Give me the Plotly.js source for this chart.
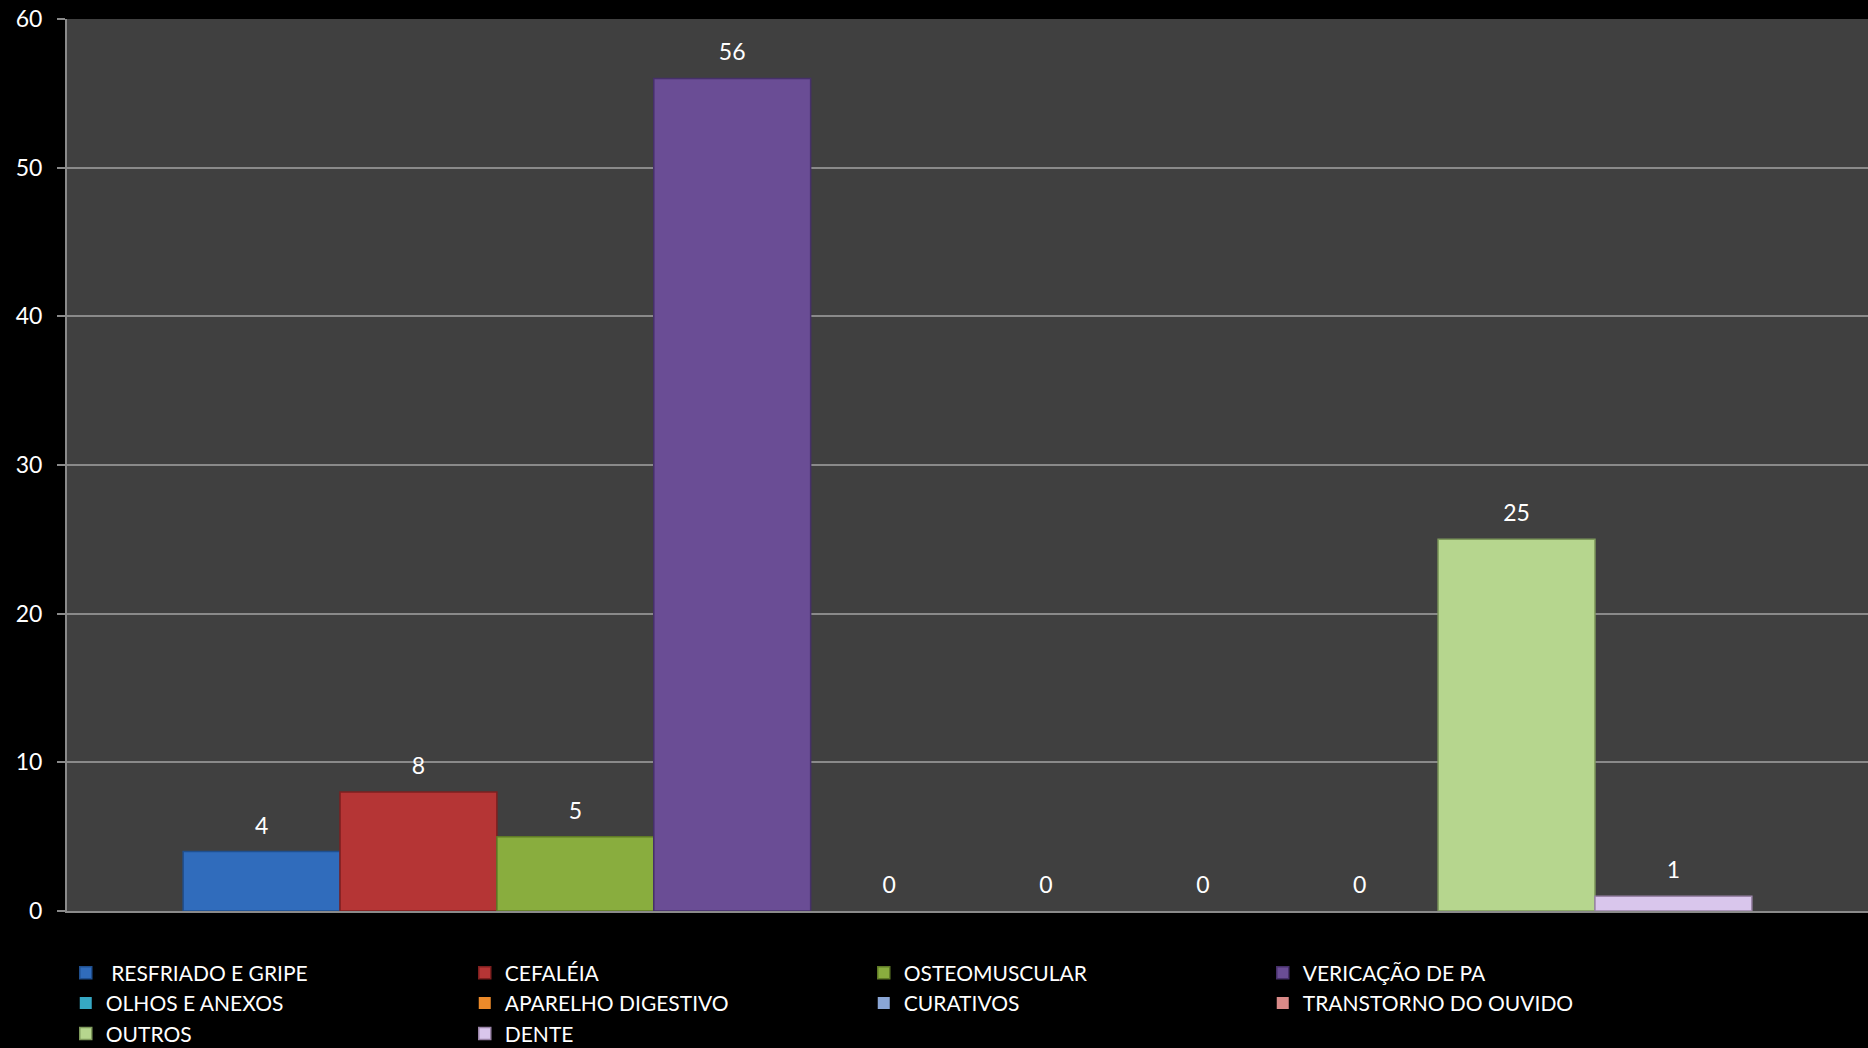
<!DOCTYPE html>
<html>
<head>
<meta charset="utf-8">
<script src="https://cdn.plot.ly/plotly-3.0.1.min.js"></script>
<style>
html,body{margin:0;padding:0;background:#000;}
#chart{width:1868px;height:1048px;}
</style>
</head>
<body>
<div id="chart"></div>
<script>
const categoria = ['Atendimentos'];
const series = [' RESFRIADO E GRIPE', 'CEFALÉIA', 'OSTEOMUSCULAR', 'VERICAÇÃO DE PA',
  'OLHOS E ANEXOS', 'APARELHO DIGESTIVO', 'CURATIVOS', 'TRANSTORNO DO OUVIDO',
  'OUTROS', 'DENTE'];
const valores = [4, 8, 5, 56, 0, 0, 0, 0, 25, 1];
const cores = ['#306cbc', '#b53535', '#89ad3e', '#6a4d95', '#36a8c4', '#ec8a2a',
  '#8aa6d6', '#d98a88', '#b6d68e', '#d9c6ec'];
const bordas = ['#1f4f8f', '#7e1f1f', '#5f7a26', '#46306a', '#1f7088', '#a85d14',
  '#5f77a3', '#9c5654', '#7f9a5c', '#9a84a8'];
const yTicks = [0, 10, 20, 30, 40, 50, 60];

const FONT = 'Lato, "Open Sans", sans-serif';

const traces = series.map((nome, i) => ({
  type: 'bar',
  name: nome,
  x: categoria,
  y: [valores[i]],
  marker: {color: cores[i], line: {color: bordas[i], width: valores[i] > 0 ? 1.5 : 0}},
  texttemplate: '<span style="font-size:23px">%{y}</span><br>&nbsp;',
  textposition: 'outside',
  cliponaxis: false,
  textfont: {color: '#ffffff', size: 10, family: FONT},
  hoverinfo: 'name+y'
}));

const layout = {
  width: 1868,
  height: 1048,
  paper_bgcolor: '#000000',
  plot_bgcolor: '#404040',
  margin: {l: 67, r: 0, t: 19, b: 137, pad: 0},
  barmode: 'group',
  bargap: 0.129,
  bargroupgap: 0,
  font: {family: FONT, color: '#ffffff', size: 21},
  showlegend: true,
  xaxis: {
    type: 'category',
    showticklabels: false,
    ticks: '',
    showgrid: false,
    showline: true,
    linecolor: '#8a8a8a',
    linewidth: 2,
    zeroline: false,
    fixedrange: true
  },
  yaxis: {
    range: [0, 60],
    tickvals: yTicks,
    ticktext: yTicks.map(String),
    showgrid: true,
    gridcolor: '#8a8a8a',
    gridwidth: 2,
    showline: true,
    linecolor: '#8a8a8a',
    linewidth: 2,
    ticks: 'outside',
    ticklen: 8,
    tickwidth: 2,
    tickcolor: '#8a8a8a',
    ticklabelstandoff: 10,
    zeroline: false,
    tickfont: {family: FONT, color: '#ffffff', size: 23}
  },
  legend: {
    orientation: 'h',
    xref: 'container',
    yref: 'container',
    x: 0.0352,
    xanchor: 'left',
    y: 0.091,
    yanchor: 'top',
    entrywidth: 354,
    entrywidthmode: 'pixels',
    font: {family: FONT, color: '#ffffff', size: 21},
    bgcolor: 'rgba(0,0,0,0)',
    traceorder: 'normal',
    itemclick: false,
    itemdoubleclick: false
  }
};

Plotly.newPlot('chart', traces, layout, {displayModeBar: false, staticPlot: true});
</script>
</body>
</html>
